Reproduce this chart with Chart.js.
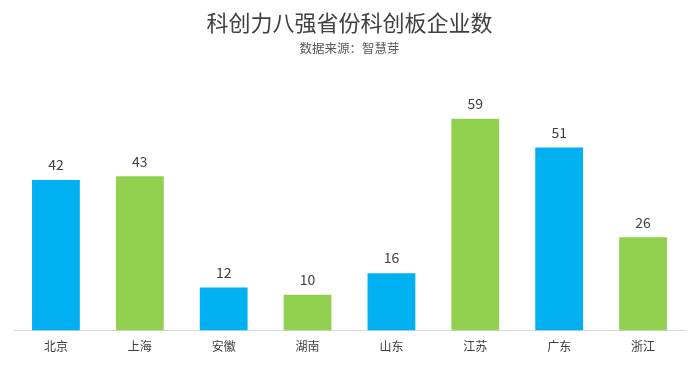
<!DOCTYPE html>
<html>
<head>
<meta charset="utf-8">
<script src="https://cdn.jsdelivr.net/npm/chart.js@4"></script>
<style>
  html, body { margin: 0; padding: 0; background: #fff; }
  #wrap { width: 700px; height: 366px; }
</style>
</head>
<body>
<div id="wrap"><canvas id="chart" width="700" height="366"></canvas></div>
<script>
const provinces = ["北京", "上海", "安徽", "湖南", "山东", "江苏", "广东", "浙江"];
const companyCounts = [42, 43, 12, 10, 16, 59, 51, 26];
const barColors = ["#00b0f0", "#92d050", "#00b0f0", "#92d050", "#00b0f0", "#92d050", "#00b0f0", "#92d050"];

const fontFamily = "'Noto Sans CJK SC', 'Noto Sans', sans-serif";

// draws the number above each bar
const valueLabels = {
  id: "valueLabels",
  afterDatasetsDraw(chart) {
    const ctx = chart.ctx;
    const meta = chart.getDatasetMeta(0);
    ctx.save();
    ctx.font = "14px " + fontFamily;
    ctx.fillStyle = "#404040";
    ctx.textAlign = "center";
    ctx.textBaseline = "bottom";
    meta.data.forEach((bar, i) => {
      ctx.fillText(companyCounts[i], bar.x, bar.y - 8);
    });
    ctx.restore();
  },
};

new Chart("chart", {
  type: "bar",
  data: {
    labels: provinces,
    datasets: [
      {
        data: companyCounts,
        backgroundColor: barColors,
        barPercentage: 0.57,
        categoryPercentage: 1,
      },
    ],
  },
  options: {
    responsive: false,
    animation: false,
    layout: {
      padding: { left: 14, right: 15, top: 0, bottom: 3 },
    },
    plugins: {
      legend: { display: false },
      tooltip: { enabled: false },
      title: {
        display: true,
        text: "科创力八强省份科创板企业数",
        color: "#404040",
        font: { family: fontFamily, size: 22, weight: "normal" },
        padding: { top: 9, bottom: 5 },
      },
      subtitle: {
        display: true,
        text: "数据来源：智慧芽",
        color: "#595959",
        font: { family: fontFamily, size: 12.5 },
        padding: { top: 0, bottom: 24 },
      },
    },
    scales: {
      x: {
        grid: { display: false, drawTicks: false },
        border: { display: true, color: "#d9d9d9", width: 1 },
        ticks: {
          color: "#404040",
          font: { family: fontFamily, size: 12 },
          padding: 9,
        },
      },
      y: {
        display: false,
        min: 0,
        max: 70,
      },
    },
  },
  plugins: [valueLabels],
});
</script>
</body>
</html>
